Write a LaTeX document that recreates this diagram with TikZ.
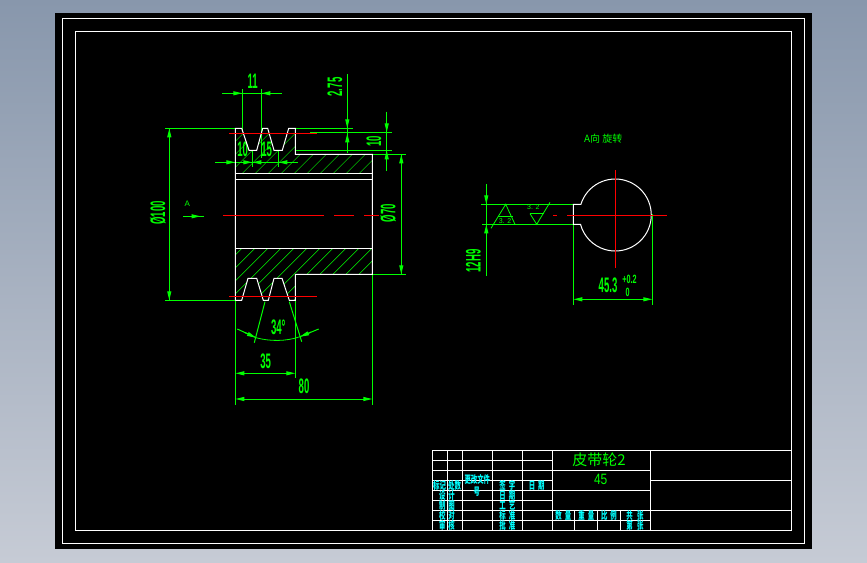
\documentclass[tikz,border=0pt]{standalone}
\usepackage{fontspec}
\setmainfont{Liberation Sans}
\newfontfamily\cjk{Noto Sans CJK SC}
\usetikzlibrary{arrows.meta}

\definecolor{cadgreen}{RGB}{0,255,0}
\definecolor{cadcyan}{RGB}{0,255,255}
\definecolor{cadred}{RGB}{255,0,0}

\newcommand{\dimtext}[1]{\scalebox{0.8}[1.75]{\fontsize{12}{12}\selectfont\bfseries #1}}
\newcommand{\tabtext}[1]{\scalebox{0.8}[1.3]{\fontsize{8}{8}\selectfont\cjk\bfseries #1}}
\newcommand{\limtext}[1]{\scalebox{0.9}[1.5]{\fontsize{8}{8}\selectfont\bfseries #1}}

\tikzset{
  edge/.style={white,line width=1pt},
  dim/.style={cadgreen,line width=1pt},
  dimhead/.style={cadgreen,line width=1pt,-{Triangle[length=9pt,width=4pt]}},
  dimboth/.style={cadgreen,line width=1pt,{Triangle[length=9pt,width=4pt]}-{Triangle[length=9pt,width=4pt]}},
  hatchline/.style={cadgreen,line width=0.5pt},
  axis/.style={cadred,line width=1pt},
  grid/.style={white,line width=1pt},
  dimlabel/.style={cadgreen,inner sep=0pt},
  tablabel/.style={cadcyan,inner sep=0pt}
}

\begin{document}
\begin{tikzpicture}[x=1pt,y=-1pt]
\useasboundingbox (0,0) rectangle (867,562);
\shade[top color={rgb,255:red,136;green,151;blue,172},bottom color={rgb,255:red,198;green,203;blue,213}] (0,0) rectangle (867,562);
\fill[black] (55,13) rectangle (812,549);
\draw[grid] (62.5,18.5) rectangle (804,543);
\draw[grid] (75.5,31.5) rectangle (791.5,530);

% section hatching
\begin{scope}
  \clip (235.3,128.3)--(241.7,128.3)--(249,150.3)--(256.7,150.3)--(262.7,128.3)--(267.7,128.3)--(274,150.3)--(282.3,150.3)--(288.7,128.3)--(295.3,128.3)--(295.3,154.3)--(372.3,154.3)--(372.3,173.3)--(235.3,173.3)--cycle;
  \foreach \s in {363.6,376.6,...,546}
    \draw[hatchline] (\s-100,100)--(\s-200,200);
\end{scope}
\begin{scope}
  \clip (235.3,248.3)--(372.3,248.3)--(372.3,274.3)--(295.3,274.3)--(295.3,300.3)--(289.3,300.3)--(282,278.3)--(274,278.3)--(268.3,300.3)--(263.3,300.3)--(256.7,278.3)--(248,278.3)--(241.7,300.3)--(235.3,300.3)--cycle;
  \foreach \s in {490.3,503.3,...,673}
    \draw[hatchline] (\s-200,200)--(\s-320,320);
\end{scope}

% green dimensions of the section
\draw[dim] (242.3,89)--(242.3,132);
\draw[dim] (261.3,89)--(261.3,158);
\draw[dim] (222,93.3)--(281.7,93.3);
\draw[dimhead] (232,93.3)--(242.3,93.3);
\draw[dimhead] (271.5,93.3)--(261.3,93.3);
\node[dimlabel] (lab11) at (252.7,81.7) {\dimtext{11}};

\draw[dim] (347.3,74)--(347.3,152.7);
\draw[dim] (295.3,128.3)--(352.7,128.3);
\draw[dim] (310,132.3)--(391.7,132.3);
\draw[dim] (295.3,150.3)--(391.7,150.3);
\draw[dimhead] (347.3,118)--(347.3,128.3);
\draw[dimhead] (347.3,143.5)--(347.3,133.3);
\node[dimlabel,rotate=90] (lab275) at (335,87) {\dimtext{2.75}};

\draw[dim] (386.7,111.7)--(386.7,171);
\draw[dimhead] (386.7,122)--(386.7,132.3);
\draw[dimhead] (386.7,160.5)--(386.7,150.3);
\node[dimlabel,rotate=90] (lab10r) at (374,141) {\dimtext{10}};

\draw[dim] (215,162.3)--(297.7,162.3);
\draw[dim] (252.3,150.3)--(252.3,166.7);
\draw[dim] (278.3,150.7)--(278.3,166.7);
\draw[dimhead] (225,162.3)--(235.3,162.3);
\draw[dimhead] (242,162.3)--(252.3,162.3);
\draw[dimhead] (262.5,162.3)--(252.3,162.3);
\draw[dimhead] (288.5,162.3)--(278.3,162.3);
\node[dimlabel] (lab10) at (242.7,149.3) {\dimtext{10}};
\node[dimlabel] (lab15) at (266.7,149) {\dimtext{15}};

\draw[dim] (165,128.3)--(235.3,128.3);
\draw[dim] (165,300.3)--(241.7,300.3);
\draw[dim] (169.3,128.3)--(169.3,300.3);
\draw[dimhead] (169.3,138.5)--(169.3,128.3);
\draw[dimhead] (169.3,290)--(169.3,300.3);
\node[dimlabel,rotate=90] (lab100) at (158,213) {\dimtext{Ø100}};

\draw[dim] (370,154.3)--(406,154.3);
\draw[dim] (370,274.3)--(406,274.3);
\draw[dim] (401.3,154.3)--(401.3,274.3);
\draw[dimhead] (401.3,164.5)--(401.3,154.3);
\draw[dimhead] (401.3,264)--(401.3,274.3);
\node[dimlabel,rotate=90] (lab70) at (388.3,213) {\dimtext{Ø70}};

% section view marker
\coordinate (viewa) at (183,216.3);
\coordinate (viewb) at (204,216.3);
\draw[dim] (viewa)--(viewb);
\draw[dimhead] (viewa)--(200.5,216.3);
\node[dimlabel] (labA) at (187.3,203.3) {\fontsize{8}{8}\selectfont A};

% groove angle
\draw[dim] (265,301.7)--(254.3,342.7);
\draw[dim] (289.3,301.7)--(301.7,341.7);
\draw[dim,line width=0.8pt] (256,337.7) .. controls (270,341.5) and (286,341.5) .. (300,336.7);
\draw[dim] (237.3,329)--(256,337.7);
\draw[dim] (318.7,329)--(300,336.7);
\draw[dimhead] (245,332.6)--(256,337.7);
\draw[dimhead] (311,332.2)--(300,336.7);
\node[dimlabel] (lab34) at (278.3,327.7) {\dimtext{34°}};

% width dimensions
\draw[dim] (235.3,300.3)--(235.3,405);
\draw[dim] (295.3,274.3)--(295.3,378.3);
\draw[dim] (372.3,274.3)--(372.3,405);
\draw[dimboth] (235.3,373.3)--(295.3,373.3);
\node[dimlabel] (lab35) at (265.7,361) {\dimtext{35}};
\draw[dimboth] (235.3,399)--(372.3,399);
\node[dimlabel] (lab80) at (304,386.7) {\dimtext{80}};

% pulley section
\draw[edge] (235.3,300.3)--(235.3,128.3)--(241.7,128.3)--(249,150.3)--(256.7,150.3)--(262.7,128.3)--(267.7,128.3)--(274,150.3)--(282.3,150.3)--(288.7,128.3)--(295.3,128.3)--(295.3,154.3)--(372.3,154.3)--(372.3,274.3)--(295.3,274.3)--(295.3,300.3)--(289.3,300.3)--(282,278.3)--(274,278.3)--(268.3,300.3)--(263.3,300.3)--(256.7,278.3)--(248,278.3)--(241.7,300.3)--(235.3,300.3);
\foreach \y in {173.3,179.3,248.3}
  \draw[edge] (235.3,\y)--(372.3,\y);

\draw[axis] (229,133.3)--(316.7,133.3);
\draw[axis] (229,296.3)--(316.7,296.3);
\draw[axis] (223,215.3)--(324,215.3);
\draw[axis] (334,215.3)--(354,215.3);
\draw[axis] (364,215.3)--(379,215.3);

% view A
\node[dimlabel] (viewtitle) at (603.3,138.3) {\fontsize{10}{10}\selectfont\cjk A向 旋转};

\draw[dim] (481,204.3)--(578.3,204.3);
\draw[dim] (482,224.3)--(578.3,224.3);
\draw[dim] (486.3,184)--(486.3,275.7);
\draw[dimhead] (486.3,193.5)--(486.3,204.3);
\draw[dimhead] (486.3,235)--(486.3,224.3);
\node[dimlabel,rotate=90] (lab12h) at (473.3,261) {\dimtext{12H9}};

\draw[dim,line width=0.8pt] (491,228.3)--(505.7,204.3)--(515,224.3);
\draw[dim,line width=0.8pt] (498.3,216.7)--(513.3,216.7);
\node[dimlabel] (roughone) at (505,220.7) {\fontsize{7}{7}\selectfont 3. 2};
\draw[dim,line width=0.8pt] (530,213.7)--(544.3,213.7);
\draw[dim,line width=0.8pt] (530,213.7)--(536.7,224.3)--(550,202.3);
\node[dimlabel] (roughtwo) at (533.3,207.3) {\fontsize{7}{7}\selectfont 3. 2};

\draw[dim] (573.3,224.3)--(573.3,305);
\draw[dim] (652.3,214.3)--(652.3,305);
\draw[dimboth] (573.3,299.3)--(652.3,299.3);
\node[dimlabel] (lab453) at (608,285.7) {\dimtext{45.3}};
\node[dimlabel] (labup) at (629.5,279) {\limtext{+0.2}};
\node[dimlabel] (labdown) at (627.5,292.7) {\limtext{0}};

\draw[edge] (573.3,204.3)--(580.9,204.3) arc[start angle=197.3,end angle=525,radius=36]--(573.3,224.3)--cycle;

\draw[axis] (615.3,170)--(615.3,267.7);
\draw[axis] (567,215.3)--(667,215.3);
\draw[axis] (553,215.3)--(557,215.3);

% title block
\draw[grid] (432.3,450.5) rectangle (791.5,530);
\foreach \y in {460.3,480.3,500.3}
  \draw[grid] (432.3,\y)--(552.3,\y);
\foreach \y in {470.3,490.3,510.3,520.3}
  \draw[grid] (432.3,\y)--(650.3,\y);
\foreach \x in {447.3,462.3,492.3,522.3,552.3,650.3}
  \draw[grid] (\x,450.5)--(\x,530);
\foreach \x in {574.3,597.3,620.3}
  \draw[grid] (\x,510.3)--(\x,530);
\draw[grid] (650.3,480.3)--(791.5,480.3);
\draw[grid] (650.3,510.3)--(791.5,510.3);

\node[dimlabel] (tname) at (599,459.5) {\fontsize{15}{15}\selectfont\cjk 皮带轮2};
\node[dimlabel] (tmat) at (600.7,479.5) {\scalebox{0.8}[1]{\fontsize{15}{15}\selectfont 45}};

\node[tablabel] (tbiao) at (439.5,485.7) {\tabtext{标记}};
\node[tablabel] (tchu) at (454.5,485.7) {\tabtext{处数}};
\node[tablabel] (tgeng) at (477.3,479.3) {\tabtext{更改文件}};
\node[tablabel] (thao) at (476.7,491.7) {\tabtext{号}};
\node[tablabel] (tqian) at (507.3,485.7) {\tabtext{签\ \ 字}};
\node[tablabel] (triq) at (536.7,485.7) {\tabtext{日\ \ 期}};
\node[tablabel] (tshe) at (447,495.7) {\tabtext{设\ \ 计}};
\node[tablabel] (tzhi) at (447,505.7) {\tabtext{制\ \ 图}};
\node[tablabel] (tjiao) at (447,515.7) {\tabtext{校\ \ 对}};
\node[tablabel] (tshen) at (447,525.7) {\tabtext{审\ \ 核}};
\node[tablabel] (triqb) at (507.3,495.7) {\tabtext{日\ \ 期}};
\node[tablabel] (tgong) at (507.3,505.7) {\tabtext{工\ \ 艺}};
\node[tablabel] (tbz) at (507.3,515.7) {\tabtext{标\ \ 准}};
\node[tablabel] (tpi) at (507.3,525.7) {\tabtext{批\ \ 准}};
\node[tablabel] (tshu) at (563.3,515.7) {\tabtext{数\ \ 量}};
\node[tablabel] (tzhong) at (586.3,515.7) {\tabtext{重\ \ 量}};
\node[tablabel] (tbi) at (609,515.7) {\tabtext{比\ \ 例}};
\node[tablabel] (tzg) at (635,515.7) {\tabtext{共\ \ \ 张}};
\node[tablabel] (tdi) at (635,525.7) {\tabtext{第\ \ \ 张}};
\end{tikzpicture}
\end{document}
